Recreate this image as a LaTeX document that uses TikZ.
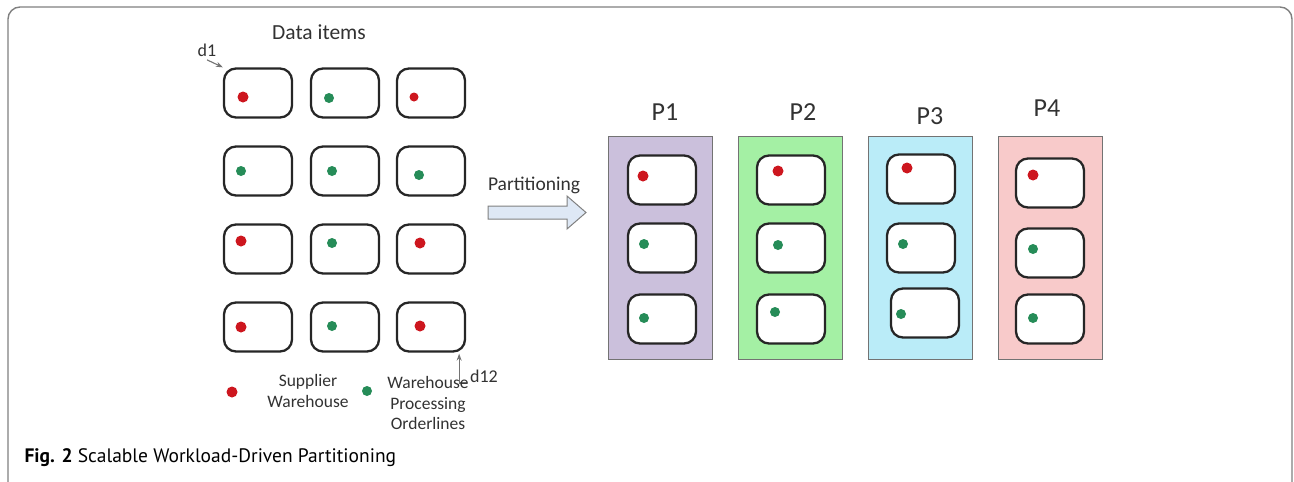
\documentclass[tikz,border=0pt]{standalone}
\usepackage{fontspec}
\setmainfont{Carlito}
\newfontfamily\capfont{PT Sans}
\usepackage{tikz}
\usetikzlibrary{arrows.meta}

\definecolor{dotred}{RGB}{205,22,30}
\definecolor{dotgreen}{RGB}{38,140,88}
\definecolor{pone}{RGB}{203,192,220}
\definecolor{ptwo}{RGB}{164,240,164}
\definecolor{pthree}{RGB}{186,236,248}
\definecolor{pfour}{RGB}{248,202,202}
\definecolor{arrfill}{RGB}{222,232,245}
\definecolor{txt}{RGB}{50,50,50}

\begin{document}
\begin{tikzpicture}[x=1pt,y=-1pt,
    item/.style={draw=black!85,line width=2.3pt,rounded corners=12pt,fill=white,
      minimum width=68pt,minimum height=49pt,inner sep=0pt},
    rdot/.style={circle,fill=dotred,inner sep=0pt,minimum size=11pt},
    gdot/.style={circle,fill=dotgreen,inner sep=0pt,minimum size=10pt},
    part/.style={draw=black!55,line width=1.4pt,minimum width=104pt,minimum height=223pt,inner sep=0pt},
    plabel/.style={text=txt,font=\fontsize{26}{28}\selectfont},
    small/.style={text=txt,font=\fontsize{17.5}{20.5}\selectfont,align=center},
    pointer/.style={draw=black!55,line width=1.1pt,-{Stealth[length=7pt,width=5pt]}}]
  \useasboundingbox (0,0) rectangle (1294,482);
  % frame, open at the bottom
  \draw[black!50,line width=1.4pt,rounded corners=12pt] (8,484) -- (8,7) -- (1292,7) -- (1292,484);

  % data items
  \node[text=txt,font=\fontsize{21.5}{24}\selectfont] (title) at (319,32) {Data items};
  \node[item] (i1) at (258,93) {};  \node[rdot] (c1) at (243,97) {};
  \node[item] (i2) at (345,93) {};  \node[gdot] (c2) at (329,98) {};
  \node[item] (i3) at (431,93) {};  \node[rdot,minimum size=9pt] (c3) at (414,97) {};
  \node[item] (i4) at (258,171) {}; \node[gdot] (c4) at (241,171) {};
  \node[item] (i5) at (345,171) {}; \node[gdot] (c5) at (332,171) {};
  \node[item] (i6) at (431,171) {}; \node[gdot] (c6) at (419,175) {};
  \node[item] (i7) at (258,249) {}; \node[rdot] (c7) at (241,241) {};
  \node[item] (i8) at (345,249) {}; \node[gdot] (c8) at (332,243) {};
  \node[item] (i9) at (431,249) {}; \node[rdot] (c9) at (420,243) {};
  \node[item] (i10) at (258,327) {}; \node[rdot] (c10) at (241,327) {};
  \node[item] (i11) at (345,327) {}; \node[gdot] (c11) at (332,326) {};
  \node[item] (i12) at (431,327) {}; \node[rdot] (c12) at (420,326) {};

  \node[small,font=\fontsize{18}{20}\selectfont] (d1) at (207,50) {d1};
  \draw[pointer] (d1.south) -- (i1.north west);
  \node[small,font=\fontsize{18}{20}\selectfont] (d12) at (484,376) {d12};
  \coordinate (d12tip) at ([xshift=-7pt,yshift=-1pt]i12.south east);
  \draw[pointer] ([yshift=-7pt]d12.west) -| (d12tip);

  % legend
  \node[rdot] (lr) at (232,392) {};
  \node[small] (lrtext) at (308,391) {Supplier\\Warehouse};
  \node[small] (lgtext) at (428,403) {Warehouse\\Processing\\Orderlines};
  \node[gdot] (lg) at (367,391) {};

  % partitioning arrow
  \node[text=txt,font=\fontsize{19.5}{22}\selectfont] (ptext) at (534,185) {Partitioning};
  \draw[draw=black!50,line width=1pt,fill=arrfill]
    (488,206) -- (567,206) -- (567,196) -- (586,212.5) -- (567,229) -- (567,219) -- (488,219) -- cycle;

  % partitions
  \node[part,fill=pone] (p1) at (660.5,248) {};
  \node[part,fill=ptwo] (p2) at (790.5,248) {};
  \node[part,fill=pthree] (p3) at (920.5,248) {};
  \node[part,fill=pfour] (p4) at (1050.5,248) {};
  \node[plabel] (l1) at (665,112) {P1};
  \node[plabel] (l2) at (803,112) {P2};
  \node[plabel] (l3) at (930,116) {P3};
  \node[plabel] (l4) at (1047,108) {P4};

  \node[item] (a1) at (662,180) {}; \node[rdot] at (643,176) {};
  \node[item] (a2) at (662,248) {}; \node[gdot] at (644,244) {};
  \node[item] (a3) at (662,319) {}; \node[gdot] at (644,318) {};

  \node[item] (b1) at (791,180) {}; \node[rdot] at (778,171) {};
  \node[item] (b2) at (791,248) {}; \node[gdot] at (778,245) {};
  \node[item] (b3) at (791,319) {}; \node[gdot] at (775,312) {};

  \node[item] (e1) at (921,179) {}; \node[rdot] at (907,168) {};
  \node[item] (e2) at (921,248) {}; \node[gdot] at (903,244) {};
  \node[item] (e3) at (925,313) {}; \node[gdot] at (901,314) {};

  \node[item] (f1) at (1050,183) {}; \node[rdot] at (1033,175) {};
  \node[item] (f2) at (1050,253) {}; \node[gdot] at (1033,249) {};
  \node[item] (f3) at (1050,319) {}; \node[gdot] at (1033,318) {};

  % caption
  \node[anchor=west,font=\capfont\fontsize{19.5}{22}\selectfont] (cap) at (21,458)
    {\textbf{Fig. 2} Scalable Workload-Driven Partitioning};
\end{tikzpicture}
\end{document}
